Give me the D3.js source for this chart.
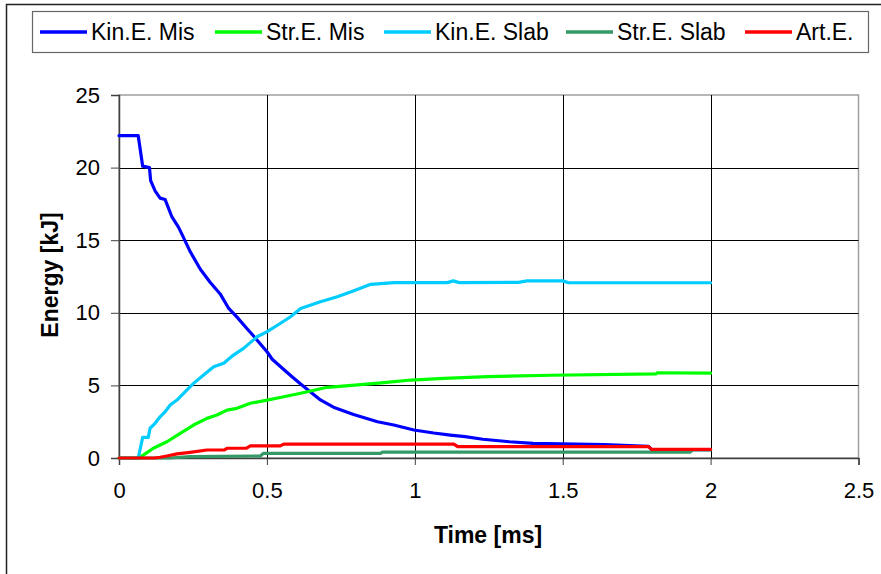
<!DOCTYPE html>
<html>
<head>
<meta charset="utf-8">
<script src="https://cdn.jsdelivr.net/npm/d3@7"></script>
<style>
  html, body { margin: 0; padding: 0; background: #fff; }
  svg { display: block; }
  text { font-family: "Liberation Sans", Arial, sans-serif; fill: #000; }
</style>
</head>
<body>
<svg id="chart" width="881" height="574"></svg>
<script>
// ---- data ----
const seriesNames = ["Kin.E. Mis", "Str.E. Mis", "Kin.E. Slab", "Str.E. Slab", "Art.E."];
const seriesColors = ["#0000FF", "#00FF00", "#00CCFF", "#339966", "#FF0000"];

const kinMisT = [0, 0.065, 0.080, 0.103, 0.107, 0.122, 0.139, 0.156, 0.179, 0.201, 0.213, 0.241, 0.275, 0.308, 0.342, 0.371, 0.399, 0.433, 0.455, 0.501, 0.518, 0.557, 0.585, 0.614, 0.681, 0.725, 0.793, 0.874, 0.929, 0.997, 1.064, 1.12, 1.17, 1.23, 1.32, 1.40, 1.64, 1.79, 1.80, 2.0];
const kinMisV = [22.2, 22.2, 20.1, 20.0, 19.1, 18.4, 17.9, 17.8, 16.6, 15.9, 15.4, 14.2, 13.0, 12.1, 11.3, 10.3, 9.7, 8.9, 8.4, 7.3, 6.8, 6.1, 5.6, 5.1, 4.0, 3.5, 3.0, 2.5, 2.27, 1.93, 1.72, 1.58, 1.47, 1.29, 1.12, 1.01, 0.92, 0.8, 0.6, 0.58];

const strMisT = [0, 0.065, 0.082, 0.116, 0.162, 0.207, 0.252, 0.297, 0.331, 0.365, 0.399, 0.444, 0.501, 0.557, 0.614, 0.704, 0.817, 0.896, 0.986, 1.099, 1.246, 1.461, 1.815, 1.82, 2.0];
const strMisV = [0, 0, 0.2, 0.67, 1.12, 1.7, 2.27, 2.73, 2.96, 3.3, 3.42, 3.77, 3.99, 4.22, 4.46, 4.87, 5.05, 5.19, 5.37, 5.49, 5.6, 5.7, 5.79, 5.87, 5.85];

const kinSlabT = [0, 0.065, 0.080, 0.099, 0.105, 0.122, 0.139, 0.156, 0.173, 0.196, 0.229, 0.252, 0.286, 0.320, 0.354, 0.387, 0.421, 0.467, 0.501, 0.546, 0.580, 0.614, 0.681, 0.738, 0.794, 0.851, 0.93, 1.11, 1.13, 1.15, 1.35, 1.38, 1.50, 1.52, 2.0];
const kinSlabV = [0, 0, 1.42, 1.42, 2.05, 2.39, 2.84, 3.19, 3.65, 3.99, 4.68, 5.14, 5.72, 6.29, 6.52, 7.09, 7.55, 8.35, 8.7, 9.28, 9.73, 10.3, 10.76, 11.1, 11.52, 11.96, 12.08, 12.08, 12.2, 12.08, 12.1, 12.2, 12.2, 12.07, 12.07];

const strSlabT = [0, 0.17, 0.241, 0.478, 0.488, 0.885, 0.89, 1.93, 1.94, 2.0];
const strSlabV = [0, 0, 0.1, 0.14, 0.32, 0.32, 0.4, 0.4, 0.55, 0.55];

const artET = [0, 0.12, 0.139, 0.162, 0.196, 0.241, 0.297, 0.355, 0.365, 0.43, 0.444, 0.545, 0.557, 1.132, 1.145, 1.79, 1.80, 2.0];
const artEV = [0, 0, 0.05, 0.14, 0.28, 0.39, 0.55, 0.55, 0.67, 0.67, 0.83, 0.83, 0.96, 0.96, 0.78, 0.78, 0.6, 0.6];

const xTicks = [0, 0.5, 1, 1.5, 2, 2.5];
const xTickLabels = ["0", "0.5", "1", "1.5", "2", "2.5"];
const yTicks = [0, 5, 10, 15, 20, 25];
const yTickLabels = ["0", "5", "10", "15", "20", "25"];

const seriesT = [kinMisT, strMisT, kinSlabT, strSlabT, artET];
const seriesV = [kinMisV, strMisV, kinSlabV, strSlabV, artEV];

// ---- layout ----
const svg = d3.select("#chart");
const plot = { left: 119, right: 858.5, top: 95, bottom: 458 };

const x = d3.scaleLinear().domain([0, 2.5]).range([plot.left, plot.right]);
const y = d3.scaleLinear().domain([0, 25]).range([plot.bottom, plot.top]);

// outer frame
svg.append("rect")
  .attr("x", 6.5).attr("y", 4.5).attr("width", 1000).attr("height", 1000)
  .attr("fill", "none").attr("stroke", "#222").attr("stroke-width", 1.5);

// plot area border (gray)
svg.append("rect")
  .attr("x", plot.left).attr("y", plot.top)
  .attr("width", plot.right - plot.left).attr("height", plot.bottom - plot.top)
  .attr("fill", "none").attr("stroke", "#a0a0a0").attr("stroke-width", 1.5);

// gridlines
svg.append("g").selectAll("line").data(yTicks.filter(d => d > 0 && d < 25)).join("line")
  .attr("x1", plot.left).attr("x2", plot.right)
  .attr("y1", d => Math.round(y(d)) + 0.5).attr("y2", d => Math.round(y(d)) + 0.5)
  .attr("stroke", "#000").attr("stroke-width", 1);
svg.append("g").selectAll("line").data(xTicks.filter(d => d > 0 && d < 2.5)).join("line")
  .attr("y1", plot.top).attr("y2", plot.bottom)
  .attr("x1", d => Math.round(x(d)) + 0.5).attr("x2", d => Math.round(x(d)) + 0.5)
  .attr("stroke", "#000").attr("stroke-width", 1);

// axes
const yAxis = d3.axisLeft(y).tickValues(yTicks)
  .tickFormat((d, i) => yTickLabels[i]).tickSize(8).tickPadding(11);
const gy = svg.append("g").attr("transform", `translate(${plot.left},0)`).call(yAxis);
gy.select(".domain").attr("stroke", "#404040").attr("stroke-width", 1.5);
gy.selectAll(".tick line").attr("stroke", "#404040");
gy.selectAll(".tick text").attr("font-size", 22).attr("font-family", "Liberation Sans, Arial, sans-serif").attr("fill", "#000");

const xAxis = d3.axisBottom(x).tickValues(xTicks)
  .tickFormat((d, i) => xTickLabels[i]).tickSize(7).tickPadding(17);
const gx = svg.append("g").attr("transform", `translate(0,${plot.bottom})`).call(xAxis);
gx.select(".domain").attr("stroke", "#404040").attr("stroke-width", 1.5);
gx.selectAll(".tick line").attr("stroke", "#404040");
gx.selectAll(".tick text").attr("font-size", 22).attr("font-family", "Liberation Sans, Arial, sans-serif").attr("fill", "#000");

// axis titles
svg.append("text")
  .attr("transform", `translate(58,275) rotate(-90)`)
  .attr("text-anchor", "middle")
  .attr("font-size", 23).attr("font-weight", "bold")
  .text("Energy [kJ]");
svg.append("text")
  .attr("x", 488).attr("y", 543)
  .attr("text-anchor", "middle")
  .attr("font-size", 23).attr("font-weight", "bold")
  .text("Time [ms]");

// series lines
const line = d3.line().x(d => x(d[0])).y(d => y(d[1]));
seriesNames.forEach((name, i) => {
  const pts = seriesT[i].map((t, k) => [t, seriesV[i][k]]);
  svg.append("path")
    .datum(pts)
    .attr("d", line)
    .attr("fill", "none")
    .attr("stroke", seriesColors[i])
    .attr("stroke-width", 3.2)
    .attr("stroke-linejoin", "round")
    .attr("stroke-linecap", "round");
});

// legend
const legend = svg.append("g");
legend.append("rect")
  .attr("x", 32.5).attr("y", 11.5).attr("width", 836).attr("height", 41)
  .attr("fill", "#fff").attr("stroke", "#666").attr("stroke-width", 1.2);
const legendLineX = [40, 215, 384, 566, 745];
seriesNames.forEach((name, i) => {
  legend.append("line")
    .attr("x1", legendLineX[i]).attr("x2", legendLineX[i] + 47)
    .attr("y1", 32).attr("y2", 32)
    .attr("stroke", seriesColors[i]).attr("stroke-width", 3.5);
  legend.append("text")
    .attr("x", legendLineX[i] + 51).attr("y", 39.5)
    .attr("font-size", 23)
    .text(name);
});
</script>
</body>
</html>
